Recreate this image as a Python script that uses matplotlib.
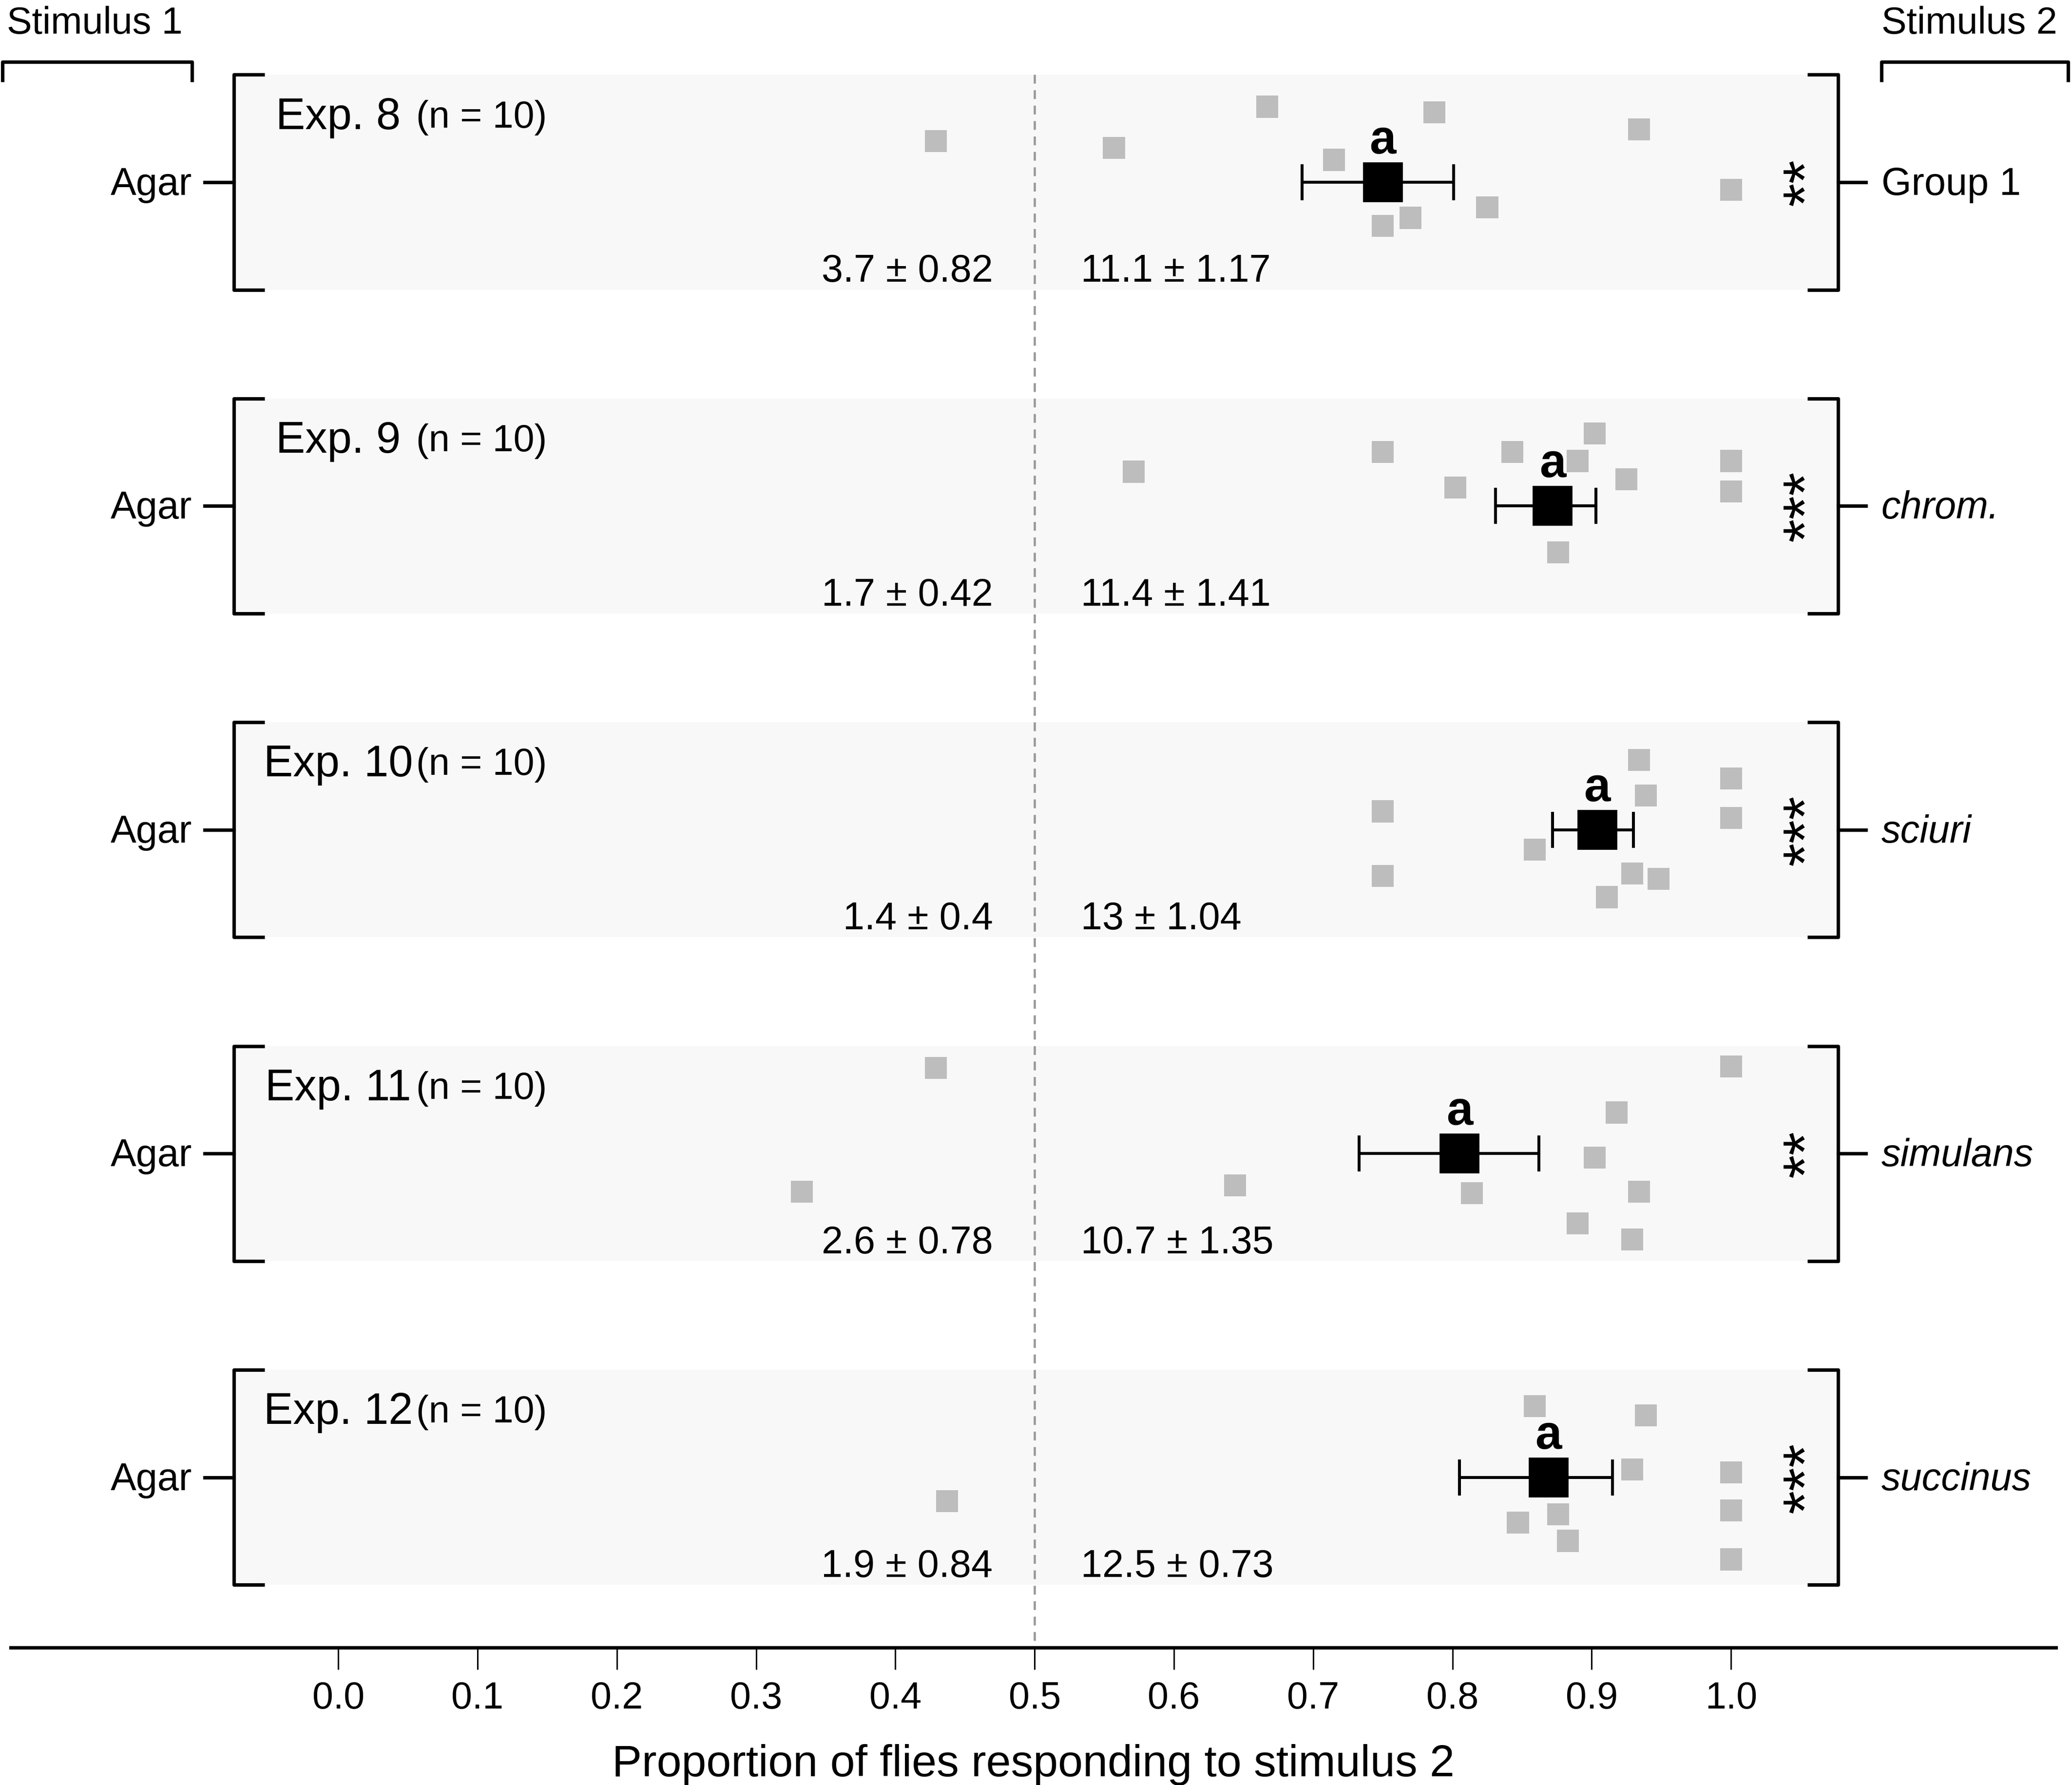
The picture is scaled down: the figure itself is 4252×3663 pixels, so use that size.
import matplotlib.pyplot as plt
from matplotlib.patches import Rectangle

plt.rcParams['font.family'] = ['Liberation Sans', 'DejaVu Sans']

# data
exp_names = ['Exp. 8', 'Exp. 9', 'Exp. 10', 'Exp. 11', 'Exp. 12']
n_flies = [10, 10, 10, 10, 10]
stim1_labels = ['Agar', 'Agar', 'Agar', 'Agar', 'Agar']
stim2_labels = ['Group 1', 'chrom.', 'sciuri', 'simulans', 'succinus']
stim2_italic = [False, True, True, True, True]
s1_mean = [3.7, 1.7, 1.4, 2.6, 1.9]
s1_sem = [0.82, 0.42, 0.4, 0.78, 0.84]
s2_mean = [11.1, 11.4, 13, 10.7, 12.5]
s2_sem = [1.17, 1.41, 1.04, 1.35, 0.73]
means = [0.750, 0.872, 0.904, 0.805, 0.869]
ci_low = [0.692, 0.831, 0.872, 0.733, 0.805]
ci_high = [0.801, 0.903, 0.930, 0.862, 0.915]
letters = ['a', 'a', 'a', 'a', 'a']
signif = ['**', '***', '***', '**', '***']

# individual replicates: proportion and vertical jitter
points_x = [
    [0.429, 0.557, 0.667, 0.715, 0.787, 0.934, 1.0, 0.825, 0.770, 0.750],
    [0.571, 0.750, 0.843, 0.890, 0.902, 0.802, 0.925, 1.0, 1.0, 0.876],
    [0.750, 0.750, 0.934, 0.939, 1.0, 1.0, 0.859, 0.929, 0.948, 0.911],
    [0.429, 0.333, 0.644, 0.814, 0.918, 0.902, 0.934, 0.890, 0.929, 1.0],
    [0.437, 0.859, 0.939, 0.929, 0.876, 0.847, 0.883, 1.0, 1.0, 1.0],
]
points_jit = [
    [0.127, 0.106, 0.233, 0.069, 0.216, 0.163, -0.024, -0.078, -0.110, -0.135],
    [0.106, 0.167, 0.167, 0.139, 0.224, 0.057, 0.082, 0.139, 0.045, -0.143],
    [0.057, -0.143, 0.216, 0.106, 0.159, 0.037, -0.061, -0.135, -0.151, -0.208],
    [0.265, -0.118, -0.098, -0.122, 0.127, -0.012, -0.118, -0.216, -0.265, 0.269],
    [-0.073, 0.220, 0.192, 0.024, -0.114, -0.139, -0.196, 0.016, -0.102, -0.253],
]

fig = plt.figure(figsize=(4252 / 271.2, 3663 / 271.2), dpi=271.2)
ax = fig.add_axes([0.0051, 0.0769, 0.9872, 0.9231])
ax.set_xlim(-0.2353, 1.2334)
ax.set_ylim(-4.526, 0.5627)

box_l, box_r, half = -0.075, 1.077, 0.332
lw = 1.9
dy = -0.008  # text baseline nudge

ax.plot([0.5, 0.5], [half, -4.526], ls=(0, (4, 3)), color='#999999', lw=1.2, zorder=1)

for i in range(5):
    yc = -i
    ax.add_patch(Rectangle((box_l, yc - half), box_r - box_l, 2 * half,
                           facecolor='#f8f8f8', edgecolor='none', zorder=0))
    # brackets
    ax.plot([-0.053, box_l, box_l, -0.053], [yc + half, yc + half, yc - half, yc - half],
            color='black', lw=lw, solid_capstyle='butt', zorder=3)
    ax.plot([1.055, box_r, box_r, 1.055], [yc + half, yc + half, yc - half, yc - half],
            color='black', lw=lw, solid_capstyle='butt', zorder=3)
    ax.plot([-0.096, box_l], [yc, yc], color='black', lw=lw, zorder=3)
    ax.plot([box_r, 1.097], [yc, yc], color='black', lw=lw, zorder=3)

    ax.text(-0.105, yc + dy, stim1_labels[i], ha='right', va='center', fontsize=21)
    ax.text(1.108, yc + dy, stim2_labels[i], ha='left', va='center', fontsize=21,
            style='italic' if stim2_italic[i] else 'normal')

    ax.text(0.0, yc + 0.208 + dy, exp_names[i], ha='center', va='center', fontsize=24)
    ax.text(0.056, yc + 0.208 + dy, '(n = %d)' % n_flies[i], ha='left', va='center',
            fontsize=20.5)

    ax.text(0.47, yc - 0.269 + dy, '{:g} ± {:g}'.format(s1_mean[i], s1_sem[i]),
            ha='right', va='center', fontsize=21)
    ax.text(0.533, yc - 0.269 + dy, '{:g} ± {:g}'.format(s2_mean[i], s2_sem[i]),
            ha='left', va='center', fontsize=21)

    ax.scatter(points_x[i], [yc + j for j in points_jit[i]], marker='s', s=12 ** 2,
               color='#bdbdbd', edgecolors='none', zorder=2)
    ax.errorbar(means[i], yc, xerr=[[means[i] - ci_low[i]], [ci_high[i] - means[i]]],
                fmt='s', ms=20.5, color='black', ecolor='black', elinewidth=1.6,
                capsize=9.7, capthick=1.6, zorder=4)
    ax.text(means[i], yc + 0.135 + dy, letters[i], ha='center', va='center',
            fontsize=26, fontweight='bold')
    ax.text(1.056, yc, signif[i], ha='center', va='center', fontsize=33, rotation=90)

# stimulus headers
ax.plot([-0.241, -0.241, -0.105, -0.105], [0.31, 0.371, 0.371, 0.31],
        color='black', lw=lw, clip_on=False, solid_capstyle='butt')
ax.plot([1.108, 1.108, 1.242, 1.242], [0.31, 0.371, 0.371, 0.31],
        color='black', lw=lw, clip_on=False, solid_capstyle='butt')
ax.text(-0.238, 0.497 + dy, 'Stimulus 1', ha='left', va='center', fontsize=20.5)
ax.text(1.108, 0.497 + dy, 'Stimulus 2', ha='left', va='center', fontsize=20.5)

for s in ['left', 'right', 'top']:
    ax.spines[s].set_visible(False)
ax.spines['bottom'].set_linewidth(1.9)
ax.set_yticks([])
ax.set_xticks([0.0, 0.1, 0.2, 0.3, 0.4, 0.5, 0.6, 0.7, 0.8, 0.9, 1.0])
ax.set_xticklabels(['0.0', '0.1', '0.2', '0.3', '0.4', '0.5', '0.6', '0.7', '0.8', '0.9', '1.0'])
ax.tick_params(axis='x', length=12, width=0.8, labelsize=20.5, pad=6)
ax.set_xlabel('Proportion of flies responding to stimulus 2', fontsize=24.3, labelpad=15)

fig.savefig('out.png', dpi=271.2)
